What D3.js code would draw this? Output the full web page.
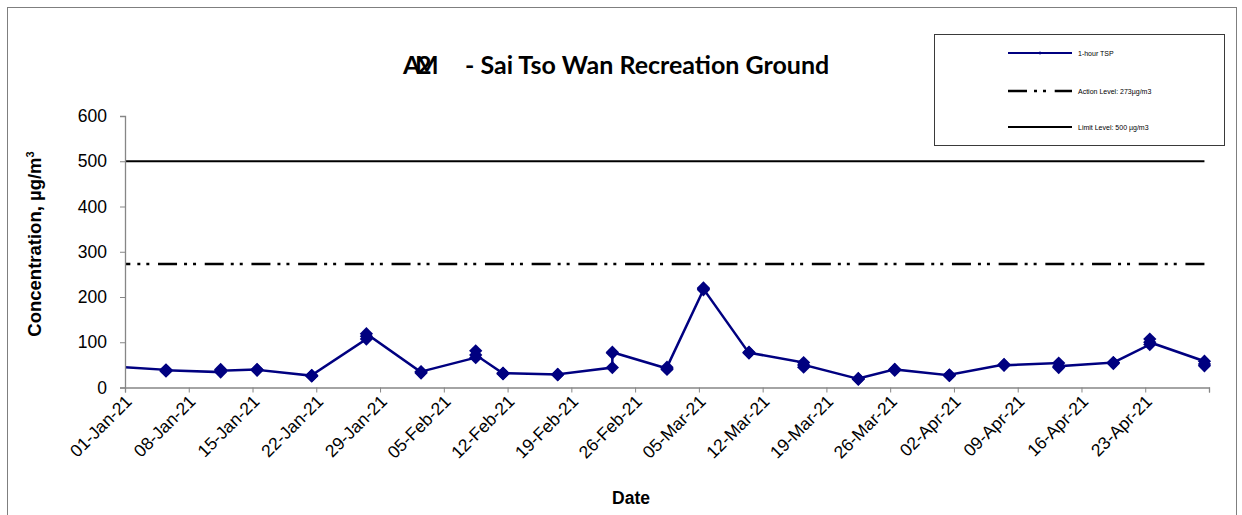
<!DOCTYPE html>
<html>
<head>
<meta charset="utf-8">
<script src="https://cdn.jsdelivr.net/npm/d3@7"></script>
<style>
body { margin: 0; background: #fff; }
text { font-family: "Liberation Sans", Arial, sans-serif; fill: #000; }
</style>
</head>
<body>
<script>

// monitoring dates (3 readings each)
let dates = ["2020-12-30","2021-01-05","2021-01-11","2021-01-15","2021-01-21","2021-01-27",
	"2021-02-02","2021-02-08","2021-02-11","2021-02-17","2021-02-23","2021-03-01","2021-03-05",
	"2021-03-10","2021-03-16","2021-03-22","2021-03-26","2021-04-01","2021-04-07","2021-04-13",
	"2021-04-19","2021-04-23","2021-04-29"];
let tsp = [[47,46,47],[39,36,38],[34,40,37],[40,38,39],[26,25,27],[107,113,119],
	[34,32,35],[66,81,72],[31,30,32],[29,28,29],[44,76,78],[42,40,45],[216,220,218],
	[76,78,77],[55,45,50],[19,18,20],[40,38,40],[27,26,28],[51,50,49],[54,44,47],
	[55,53,55],[95,107,100],[58,48,52]];
let actionLevel = 273;
let limitLevel = 500;
let yTicks = [0,100,200,300,400,500,600];
let xTickLabels = ["01-Jan-21","08-Jan-21","15-Jan-21","22-Jan-21","29-Jan-21","05-Feb-21",
	"12-Feb-21","19-Feb-21","26-Feb-21","05-Mar-21","12-Mar-21","19-Mar-21","26-Mar-21",
	"02-Apr-21","09-Apr-21","16-Apr-21","23-Apr-21"];
let xEnd = "30-Apr-21";
let legendItems = ["1-hour TSP","Action Level:  273\u00b5g/m3","Limit Level: 500 \u00b5g/m3"];

let svg = d3.select("body").append("svg")
	.attr("width", 1242)
	.attr("height", 515);

// outer chart border
svg.append("rect")
	.attr("x", 7.5).attr("y", 7.5)
	.attr("width", 1229).attr("height", 600)
	.attr("fill", "none")
	.attr("stroke", "#7f7f7f");

let parseTick = d3.timeParse("%d-%b-%y");
let parseDay = d3.timeParse("%Y-%m-%d");
let tickDates = xTickLabels.map(parseTick);

let x = d3.scaleTime()
	.domain([tickDates[0], parseTick(xEnd)])
	.range([125, 1209]);
let y = d3.scaleLinear()
	.domain([0, 600])
	.range([387.5, 116]);

// readings are plotted at midday
let points = [];
dates.forEach((d, i) => {
	let t = d3.timeHour.offset(parseDay(d), 12);
	tsp[i].forEach(v => points.push({t: t, v: v}));
});

svg.append("clipPath").attr("id", "clip")
	.append("rect")
	.attr("x", 125).attr("y", 0)
	.attr("width", 1117).attr("height", 515);

let plot = svg.append("g").attr("clip-path", "url(#clip)");

let tFirst = points[0].t, tLast = points[points.length - 1].t;

// limit level
plot.append("line")
	.attr("x1", x(tFirst)).attr("x2", x(tLast))
	.attr("y1", y(limitLevel)).attr("y2", y(limitLevel))
	.attr("stroke", "#000")
	.attr("stroke-width", 2);

// action level
plot.append("line")
	.attr("x1", x(tFirst)).attr("x2", x(tLast))
	.attr("y1", y(actionLevel)).attr("y2", y(actionLevel))
	.attr("stroke", "#000")
	.attr("stroke-width", 2.5)
	.attr("stroke-dasharray", "19,7,3,6,3,8.7");

let line = d3.line()
	.x(d => x(d.t))
	.y(d => y(d.v));

plot.append("path")
	.datum(points)
	.attr("d", line)
	.attr("fill", "none")
	.attr("stroke", "#000080")
	.attr("stroke-width", 2.5);

let diamond = d3.symbol().type(d3.symbolSquare).size(88);
plot.selectAll(".mk")
	.data(points)
	.enter()
	.append("path")
	.attr("class", "mk")
	.attr("d", diamond)
	.attr("transform", d => "translate(" + x(d.t) + "," + y(d.v) + ") rotate(45)")
	.attr("fill", "#000080");

// y axis
let yAxis = svg.append("g")
	.attr("transform", "translate(125,0)")
	.call(d3.axisLeft(y).tickValues(yTicks).tickSize(5).tickPadding(13));
yAxis.selectAll("text").style("font-size", "17.5px").style("font-family", "Liberation Sans, Arial, sans-serif");

// x axis
let xAxis = svg.append("g")
	.attr("transform", "translate(0,387.5)")
	.call(d3.axisBottom(x).tickValues(tickDates.concat([parseTick(xEnd)])).tickSize(5).tickFormat(""));

xAxis.selectAll(".lbl")
	.data(tickDates)
	.enter()
	.append("text")
	.attr("class", "lbl")
	.attr("transform", (d, i) => "translate(" + (x(d) + 8) + ",15) rotate(-45)")
	.attr("text-anchor", "end")
	.style("font-size", "17.5px")
	.text((d, i) => xTickLabels[i]);

svg.selectAll(".domain, .tick line").attr("stroke", "#868686");
svg.selectAll(".domain").attr("stroke-width", 1.3);

// axis titles
let yTitle = svg.append("text")
	.attr("transform", "translate(41,244) rotate(-90)")
	.attr("text-anchor", "middle")
	.style("font-size", "18.5px")
	.style("font-weight", "bold");
yTitle.append("tspan").text("Concentration, \u00b5g/m");
yTitle.append("tspan").attr("dy", -7).style("font-size", "11px").text("3");

svg.append("text")
	.attr("x", 631).attr("y", 504)
	.attr("text-anchor", "middle")
	.style("font-size", "17.5px")
	.style("font-weight", "bold")
	.text("Date");

// title (station code overprinted as in the original)
let titleFont = "Lato, 'Open Sans', sans-serif";
svg.append("text").attr("x", 403).attr("y", 74)
	.style("font-family", titleFont).style("font-size", "25px").style("font-weight", "bold")
	.text("A");
svg.append("text").attr("x", 415).attr("y", 74)
	.style("font-family", titleFont).style("font-size", "25px").style("font-weight", "bold")
	.text("M");
svg.append("text").attr("x", 417).attr("y", 74)
	.style("font-family", titleFont).style("font-size", "25px").style("font-weight", "bold")
	.text("2");
svg.append("text").attr("x", 465).attr("y", 74)
	.style("font-family", titleFont).style("font-size", "25px").style("font-weight", "bold")
	.text("- Sai Tso Wan Recreation Ground");

// legend
svg.append("rect")
	.attr("x", 934.5).attr("y", 34.5)
	.attr("width", 290).attr("height", 111)
	.attr("fill", "#fff")
	.attr("stroke", "#3a3a3a");

let legendY = [53, 91, 127];
let legendStyle = [
	{stroke: "#000080", width: 2.2, dash: null},
	{stroke: "#000", width: 2.5, dash: "19,7,3,6,3,8.7"},
	{stroke: "#000", width: 2, dash: null}
];
legendItems.forEach((name, i) => {
	svg.append("line")
		.attr("x1", 1008).attr("x2", 1072)
		.attr("y1", legendY[i]).attr("y2", legendY[i])
		.attr("stroke", legendStyle[i].stroke)
		.attr("stroke-width", legendStyle[i].width)
		.attr("stroke-dasharray", legendStyle[i].dash);
	svg.append("text")
		.attr("x", 1078).attr("y", legendY[i] + 2.5)
		.style("font-size", "7px")
		.text(name);
});
svg.append("path")
	.attr("d", d3.symbol().type(d3.symbolSquare).size(6))
	.attr("transform", "translate(1040," + legendY[0] + ") rotate(45)")
	.attr("fill", "#000080");

</script>
</body>
</html>
